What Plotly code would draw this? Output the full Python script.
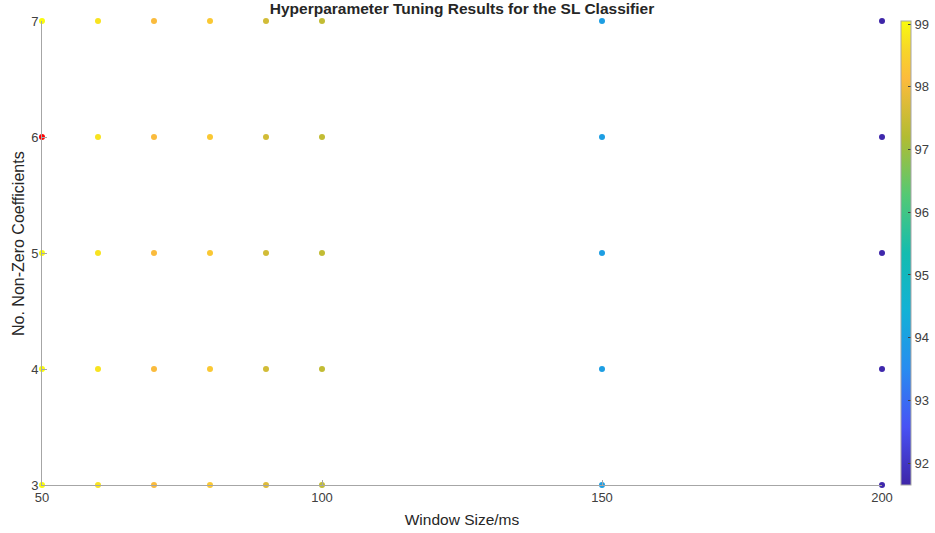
import plotly.graph_objects as go

# Data
window_sizes = [50, 60, 70, 80, 90, 100, 150, 200]
n_coeffs = [3, 4, 5, 6, 7]
# accuracy[i][j] -> window_sizes[j], n_coeffs[i]
accuracy = [
    [99.05, 98.75, 98.10, 98.35, 97.75, 97.40, 93.95, 91.70],  # 3
    [99.05, 98.75, 98.10, 98.35, 97.60, 97.40, 93.95, 91.70],  # 4
    [99.05, 98.75, 98.10, 98.35, 97.60, 97.40, 93.95, 91.70],  # 5
    [99.10, 98.75, 98.10, 98.35, 97.60, 97.40, 93.95, 91.70],  # 6
    [99.05, 98.75, 98.10, 98.35, 97.60, 97.40, 93.95, 91.65],  # 7
]
best_window = [50]
best_coeff = [6]
x_ticks = [50, 100, 150, 200]
y_ticks = [3, 4, 5, 6, 7]
cbar_ticks = [92, 93, 94, 95, 96, 97, 98, 99]

parula = [
    [0.000, "rgb(62,38,168)"],
    [0.125, "rgb(72,82,244)"],
    [0.250, "rgb(40,140,240)"],
    [0.375, "rgb(18,177,214)"],
    [0.500, "rgb(20,188,175)"],
    [0.625, "rgb(84,201,116)"],
    [0.750, "rgb(178,188,50)"],
    [0.875, "rgb(252,187,61)"],
    [0.940, "rgb(247,215,40)"],
    [1.000, "rgb(249,251,14)"],
]

xs, ys, cs = [], [], []
for i, c in enumerate(n_coeffs):
    for j, w in enumerate(window_sizes):
        if w in best_window and c in best_coeff:
            continue
        xs.append(w)
        ys.append(c)
        cs.append(accuracy[i][j])

all_vals = [v for row in accuracy for v in row]

fig = go.Figure()
fig.add_trace(go.Scatter(
    x=xs, y=ys, mode="markers", cliponaxis=False,
    marker=dict(
        size=6, color=cs, colorscale=parula,
        cmin=min(all_vals), cmax=max(cs),
        colorbar=dict(
            x=1.0226, xanchor="left", xpad=0,
            y=0.5, yanchor="middle", ypad=0,
            len=1.0, lenmode="fraction", thickness=10,
            outlinecolor="#a6a6a6", outlinewidth=1,
            tickvals=cbar_ticks, ticks="inside", ticklen=3,
            tickcolor="#404040",
            tickfont=dict(family="Liberation Sans, Arial", size=13, color="#404040"),
        ),
    ),
    showlegend=False,
))
fig.add_trace(go.Scatter(
    x=best_window, y=best_coeff, mode="markers", cliponaxis=False,
    marker=dict(size=6, color="red"), showlegend=False,
))

fig.update_layout(
    width=935, height=533,
    margin=dict(l=42, r=53, t=21, b=48, autoexpand=False),
    plot_bgcolor="white", paper_bgcolor="white",
    title=dict(
        text="<b>Hyperparameter Tuning Results for the SL Classifier</b>",
        x=0.5, xref="paper", xanchor="center",
        y=1 - 9 / 533, yref="container", yanchor="middle",
        font=dict(family="Liberation Sans, Arial", size=15.5, color="#262626"),
    ),
    font=dict(family="Liberation Sans, Arial", color="#404040"),
    annotations=[dict(
        text="No. Non-Zero Coefficients", textangle=-90,
        xref="paper", yref="paper", x=(18 - 42) / 840, y=(485 - 244) / 464,
        xanchor="center", yanchor="middle", showarrow=False,
        font=dict(size=16, color="#262626"),
    )],
)
fig.update_xaxes(
    range=[50, 200], tickvals=x_ticks, showgrid=False, zeroline=False,
    showline=True, linecolor="#a6a6a6", linewidth=1,
    ticks="inside", ticklen=5, tickcolor="#a6a6a6",
    tickfont=dict(size=13, color="#404040"), automargin=False,
    title=dict(text="Window Size/ms", font=dict(size=15.5, color="#262626"), standoff=10),
)
fig.update_yaxes(
    range=[3, 7], tickvals=y_ticks, showgrid=False, zeroline=False,
    showline=True, linecolor="#a6a6a6", linewidth=1,
    ticks="inside", ticklen=5, tickcolor="#a6a6a6",
    tickfont=dict(size=13, color="#404040"), automargin=False,
)

fig.write_html(
    "out.html",
    config={"displayModeBar": False},
    post_script="document.body.style.margin='0';",
)
